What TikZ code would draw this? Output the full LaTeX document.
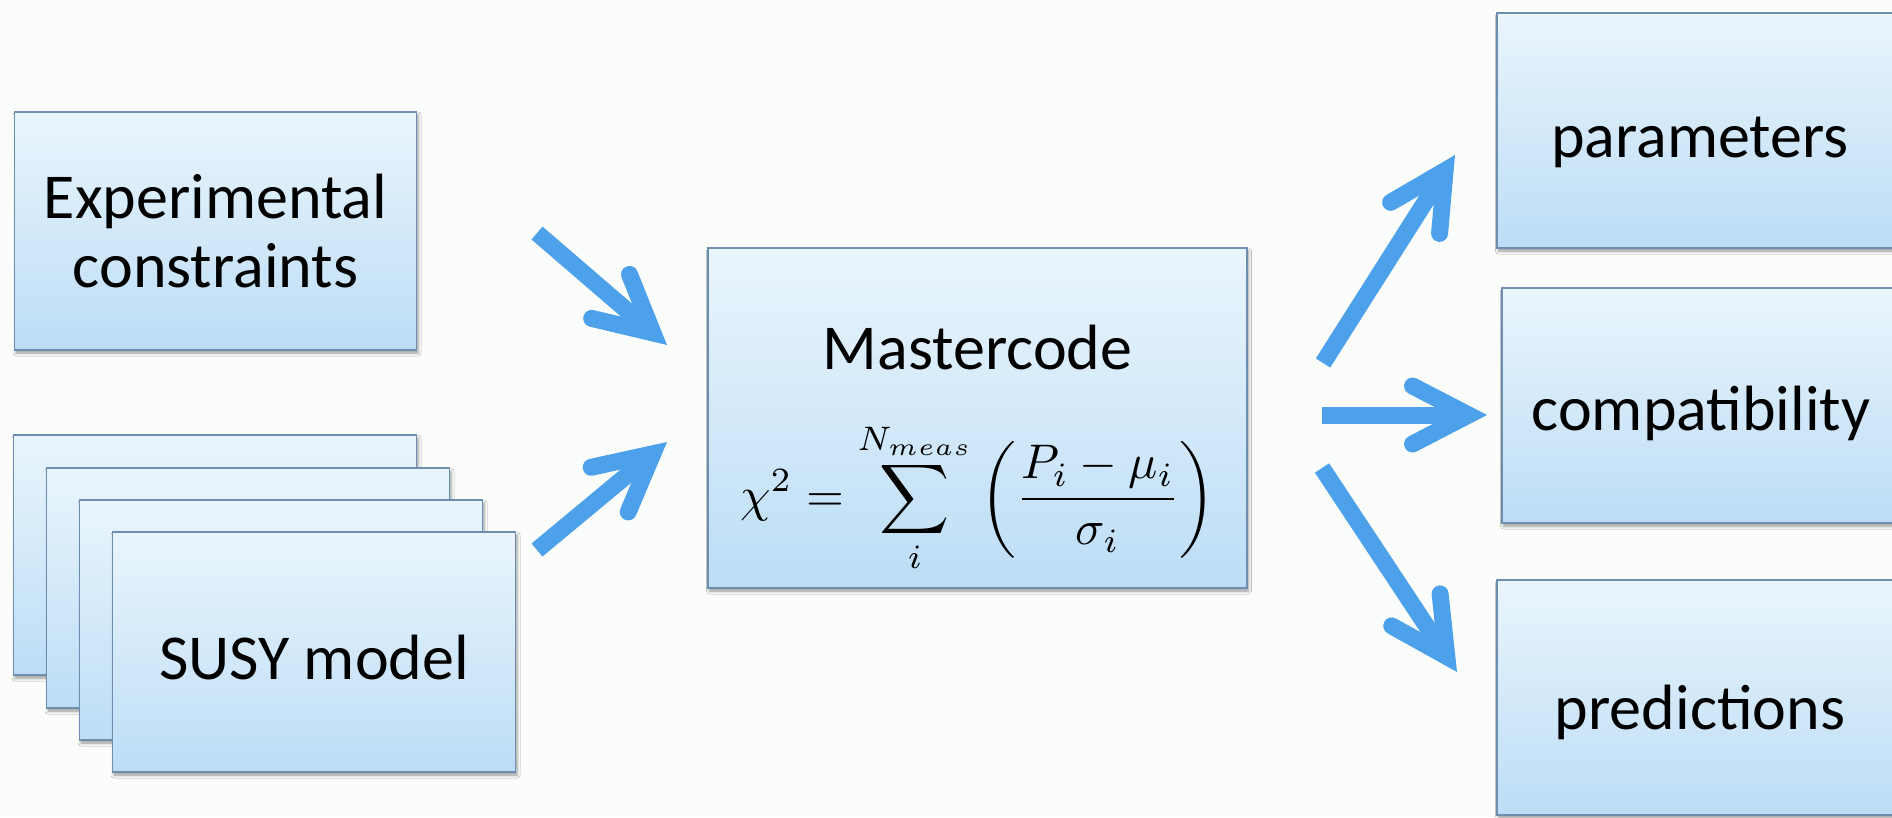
\documentclass[tikz,border=0pt]{standalone}
\usepackage{fontspec}
\setmainfont{Carlito}
\usepackage{graphicx}
\usetikzlibrary{arrows.meta,shadows.blur}
\definecolor{bg}{RGB}{251,253,251}
\definecolor{boxtop}{RGB}{234,245,252}
\definecolor{boxbot}{RGB}{188,221,246}
\definecolor{boxline}{RGB}{110,142,175}
\definecolor{arrowblue}{RGB}{77,161,235}
\begin{document}
\begin{tikzpicture}[x=1pt,y=-1pt,
  box/.style={draw=boxline, line width=1.6pt, top color=boxtop, bottom color=boxbot, inner sep=0pt,
    blur shadow={shadow xshift=1.5pt, shadow yshift=-3pt, shadow blur radius=3pt, shadow opacity=40}},
  lbl/.style={font=\fontsize{64}{70}\selectfont, anchor=base, inner sep=0pt, text=black},
  flow/.style={draw=arrowblue, line width=17pt,
    -{Straight Barb[length=56pt,width=58pt,line width=17pt,line cap=round,line join=miter]}}
]
\useasboundingbox (0,0) rectangle (1892,817);
\fill[bg] (0,0) rectangle (1892,817);
\clip (0,0) rectangle (1892,817);

% left: experimental constraints
\node[box, minimum width=402pt, minimum height=238pt] (exp) at (215.5,231) {};
\node[lbl] (exptxt1) at (215.5,218) {Experimental};
\node[lbl] (exptxt2) at (215.5,287) {constraints};

% left: stack of SUSY models
\node[box, minimum width=403pt, minimum height=240pt] (susyA) at (215,555) {};
\node[box, minimum width=403pt, minimum height=240pt] (susyB) at (248,588) {};
\node[box, minimum width=403pt, minimum height=240pt] (susyC) at (281,620) {};
\node[box, minimum width=403pt, minimum height=240pt] (susyD) at (314,652) {};
\node[lbl] (susytxt) at (314,679) {SUSY model};

% centre: Mastercode
\node[box, minimum width=539pt, minimum height=340pt] (master) at (977.5,418) {};
\node[lbl] (mastertxt) at (977.5,369) {Mastercode};
\node[inner sep=0pt] (formula) at (978,498)
  {\resizebox{475pt}{!}{$\displaystyle \chi^2=\sum_i^{N_{meas}}\left(\frac{P_i-\mu_i}{\sigma_i}\right)$}};

% right: outputs
\node[box, minimum width=406pt, minimum height=235pt] (params) at (1700,130.5) {};
\node[lbl] (paramstxt) at (1700,157) {parameters};
\node[box, minimum width=398pt, minimum height=235pt] (compat) at (1701,405.5) {};
\node[lbl] (compattxt) at (1701,430) {compatibility};
\node[box, minimum width=406pt, minimum height=235pt] (pred) at (1700,697.5) {};
\node[lbl] (predtxt) at (1700,729) {predictions};

% arrows
\coordinate (a1s) at (537,233);  \coordinate (a1e) at (667,345);
\coordinate (a2s) at (537,550);  \coordinate (a2e) at (667,442);
\coordinate (a3s) at (1323,363); \coordinate (a3e) at (1455,155);
\coordinate (a4s) at (1322,415); \coordinate (a4e) at (1487,415);
\coordinate (a5s) at (1322,468); \coordinate (a5e) at (1457,672);
\draw[flow] (a1s) -- (a1e);
\draw[flow] (a2s) -- (a2e);
\draw[flow] (a3s) -- (a3e);
\draw[flow] (a4s) -- (a4e);
\draw[flow] (a5s) -- (a5e);
\end{tikzpicture}
\end{document}
